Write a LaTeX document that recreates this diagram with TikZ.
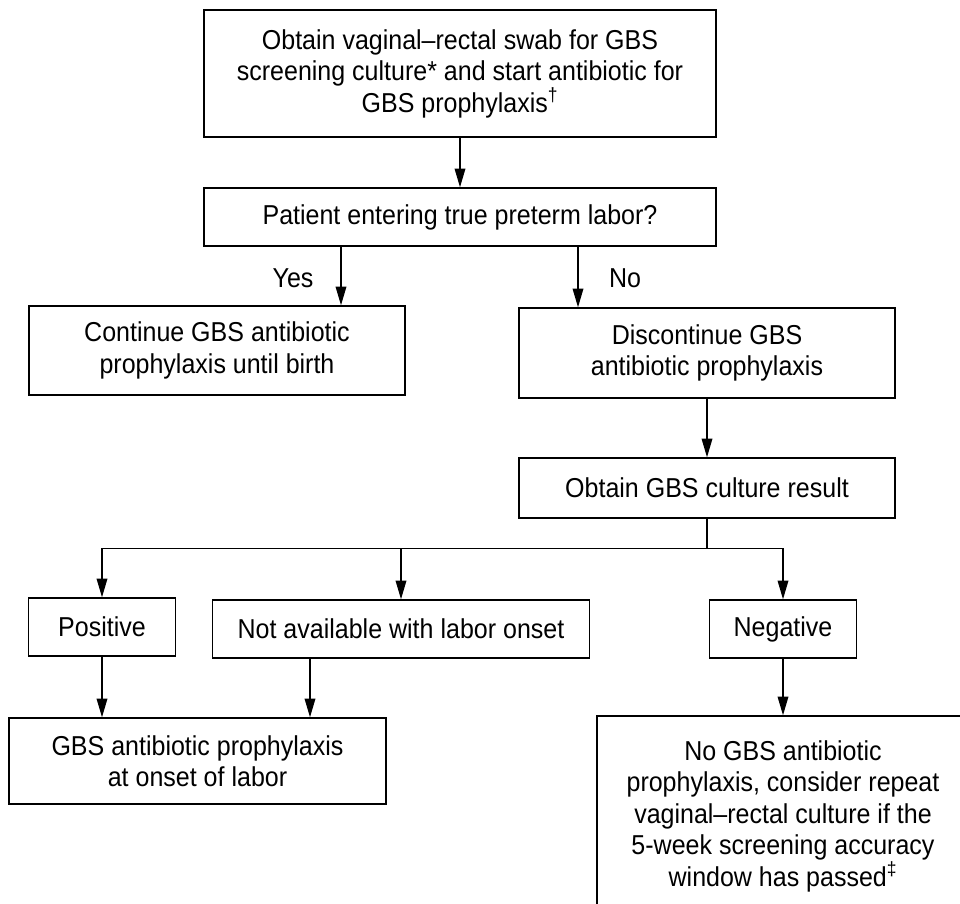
\documentclass[tikz,border=0pt]{standalone}
\usepackage{fontspec}
\setmainfont{Liberation Sans}[FakeStretch=0.915]
\usetikzlibrary{arrows.meta}
\begin{document}
\begin{tikzpicture}[x=0.75pt,y=-0.75pt,
  box/.style={draw, line width=1.1pt, align=center, inner sep=0pt,
    font=\fontsize{20.5}{23.6}\selectfont},
  lbl/.style={inner sep=0pt, font=\fontsize{20.5}{23.6}\selectfont},
  arr/.style={line width=1pt, -{Triangle[length=14pt,width=8pt]}},
  ln/.style={line width=1pt}]
\useasboundingbox (0,0) rectangle (960,903);
\clip (0,0) rectangle (960,903);
\node[box, minimum width=512*0.75pt, minimum height=127*0.75pt] (swab) at (460,73.5)
  {Obtain vaginal--rectal swab for GBS\\screening culture* and start antibiotic for\\GBS prophylaxis\textsuperscript{†}};
\node[box, minimum width=512*0.75pt, minimum height=58*0.75pt] (labor) at (460,217)
  {Patient entering true preterm labor?};
\node[box, minimum width=376*0.75pt, minimum height=89*0.75pt] (cont) at (217,350.5)
  {Continue GBS antibiotic\\prophylaxis until birth};
\node[box, minimum width=376*0.75pt, minimum height=90*0.75pt] (disc) at (707,353)
  {Discontinue GBS\\antibiotic prophylaxis};
\node[box, minimum width=376*0.75pt, minimum height=60*0.75pt] (res) at (707,488)
  {Obtain GBS culture result};
\node[box, minimum width=147*0.75pt, minimum height=58*0.75pt] (pos) at (102,627)
  {Positive};
\node[box, minimum width=377*0.75pt, minimum height=58*0.75pt] (na) at (401,629)
  {Not available with labor onset};
\node[box, minimum width=147*0.75pt, minimum height=58*0.75pt] (neg) at (783,629)
  {Negative};
\node[box, minimum width=377*0.75pt, minimum height=86*0.75pt] (onset) at (197.5,761)
  {GBS antibiotic prophylaxis\\at onset of labor};
\node[box, minimum width=372*0.75pt, minimum height=200*0.75pt] (nogbs) at (783,816)
  {No GBS antibiotic\\prophylaxis, consider repeat\\vaginal--rectal culture if the\\5-week screening accuracy\\window has passed\textsuperscript{‡}};
\node[lbl] (yes) at (293,278) {Yes};
\node[lbl] (no) at (625,278) {No};
\draw[arr] (swab) -- (labor);
\draw[arr] (labor.south -| 341,0) -- (cont.north -| 341,0);
\draw[arr] (labor.south -| 578,0) -- (disc.north -| 578,0);
\draw[arr] (disc) -- (res);
\draw[ln] (res.south) -- ++(0,30) coordinate (j);
\draw[arr] (j) -| (pos.north);
\draw[arr] (j) -| (neg.north);
\draw[arr] (na.north |- j) -- (na.north);
\draw[arr] (pos.south) -- (onset.north -| pos.south);
\draw[arr] (na.south -| 310,0) -- (onset.north -| 310,0);
\draw[arr] (neg.south) -- (nogbs.north);
\end{tikzpicture}
\end{document}
